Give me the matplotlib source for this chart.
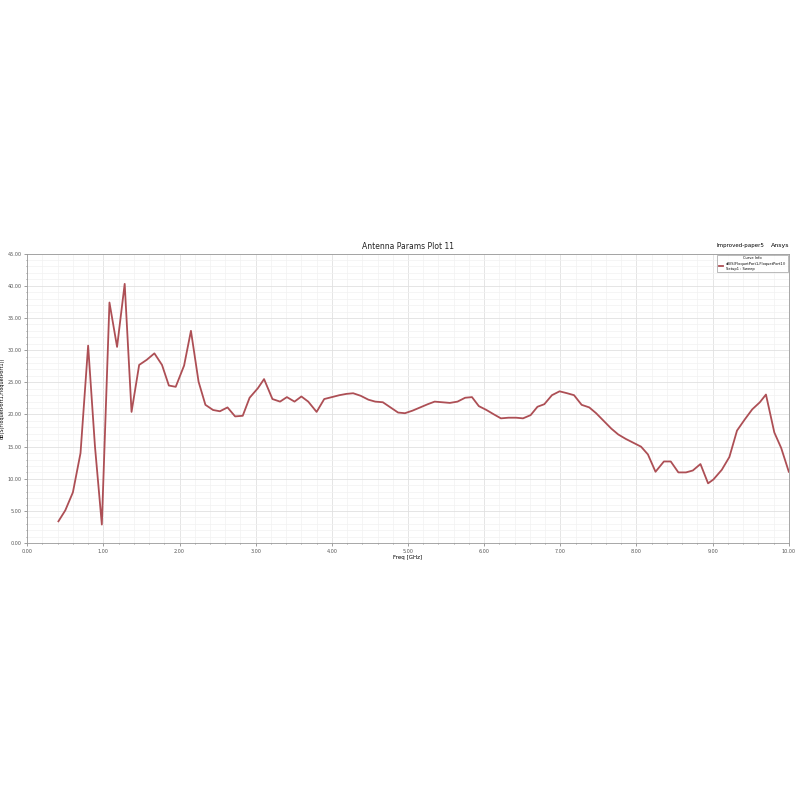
import matplotlib
matplotlib.use("Agg")
import matplotlib.pyplot as plt
from matplotlib.ticker import MultipleLocator, FormatStrFormatter

freq_ghz = [0.41, 0.50, 0.60, 0.70, 0.80, 0.89, 0.98, 1.08, 1.18, 1.28,
            1.37, 1.47, 1.57, 1.67, 1.77, 1.86, 1.95, 2.06, 2.15, 2.25,
            2.34, 2.44, 2.53, 2.63, 2.73, 2.83, 2.92, 3.03, 3.11, 3.22,
            3.32, 3.41, 3.51, 3.60, 3.69, 3.80, 3.90, 4.00, 4.10, 4.19,
            4.28, 4.38, 4.48, 4.57, 4.67, 4.77, 4.87, 4.96, 5.06, 5.16,
            5.26, 5.35, 5.45, 5.55, 5.65, 5.75, 5.84, 5.93, 6.03, 6.13,
            6.22, 6.32, 6.42, 6.51, 6.61, 6.70, 6.79, 6.89, 6.99, 7.09,
            7.18, 7.28, 7.38, 7.47, 7.57, 7.67, 7.76, 7.86, 7.96, 8.06,
            8.15, 8.25, 8.36, 8.45, 8.55, 8.65, 8.74, 8.84, 8.94, 9.01,
            9.12, 9.22, 9.32, 9.42, 9.52, 9.62, 9.70, 9.81, 9.90, 10.00]
s11_db = [3.4, 5.1, 7.9, 14.0, 30.7, 15.0, 2.9, 37.4, 30.5, 40.3,
          20.4, 27.7, 28.5, 29.5, 27.7, 24.5, 24.3, 27.6, 33.0, 25.1,
          21.5, 20.7, 20.5, 21.1, 19.7, 19.8, 22.6, 24.1, 25.5, 22.4,
          22.0, 22.7, 22.0, 22.8, 22.0, 20.4, 22.4, 22.7, 23.0, 23.2,
          23.3, 22.9, 22.3, 22.0, 21.9, 21.1, 20.3, 20.2, 20.6, 21.1,
          21.6, 22.0, 21.9, 21.8, 22.0, 22.6, 22.7, 21.3, 20.7, 20.0,
          19.4, 19.5, 19.5, 19.4, 19.9, 21.2, 21.6, 23.0, 23.6, 23.3,
          23.0, 21.5, 21.1, 20.2, 19.0, 17.8, 16.9, 16.2, 15.6, 15.0,
          13.8, 11.1, 12.7, 12.7, 11.0, 11.0, 11.3, 12.3, 9.3, 9.9,
          11.4, 13.4, 17.5, 19.2, 20.8, 21.9, 23.1, 17.2, 14.8, 11.1]

fig = plt.figure(figsize=(8, 8), dpi=100)
ax = fig.add_axes([0.034, 0.321, 0.952, 0.362])

ax.plot(freq_ghz, s11_db, color='#ad4f55', lw=1.3,
        label='dB(S(FloquetPort1,FloquetPort1))')

ax.set_xlim(0, 10)
ax.set_ylim(0, 45)
ax.xaxis.set_major_locator(MultipleLocator(1))
ax.xaxis.set_minor_locator(MultipleLocator(0.2))
ax.yaxis.set_major_locator(MultipleLocator(5))
ax.yaxis.set_minor_locator(MultipleLocator(1))
ax.xaxis.set_major_formatter(FormatStrFormatter('%.2f'))
ax.yaxis.set_major_formatter(FormatStrFormatter('%.2f'))
ax.grid(True, which='major', color='#e0e0e0', lw=0.6)
ax.grid(True, which='minor', color='#f1f1f1', lw=0.5)
ax.set_axisbelow(True)
ax.tick_params(which='both', labelsize=3.5, colors='#555555', length=2, width=0.4, pad=2)
ax.tick_params(which='minor', length=1)
for sp in ax.spines.values():
    sp.set_color('#999999')
    sp.set_linewidth(0.6)

ax.set_xlabel('Freq [GHz]', fontsize=4, labelpad=1)
ax.set_ylabel('dB(S(FloquetPort1,FloquetPort1))', fontsize=3.5, labelpad=2)
ax.set_title('Antenna Params Plot 11', fontsize=5.5, pad=3, color='#222222')

fig.text(0.925, 0.691, 'Improved-paper5', fontsize=4, ha='center')
fig.text(0.975, 0.691, 'Ansys', fontsize=4.5, ha='center')

leg = ax.legend(loc='upper right', fontsize=2.6, title='Curve Info', title_fontsize=2.6,
                frameon=True, fancybox=False, handlelength=1.2, borderpad=0.4,
                borderaxespad=0.3)
leg.get_frame().set_edgecolor('#888888')
leg.get_frame().set_linewidth(0.5)
leg.get_texts()[0].set_text('dB(S(FloquetPort1,FloquetPort1))\nSetup1 : Sweep')

fig.savefig('out.png', dpi=100, facecolor='white')
